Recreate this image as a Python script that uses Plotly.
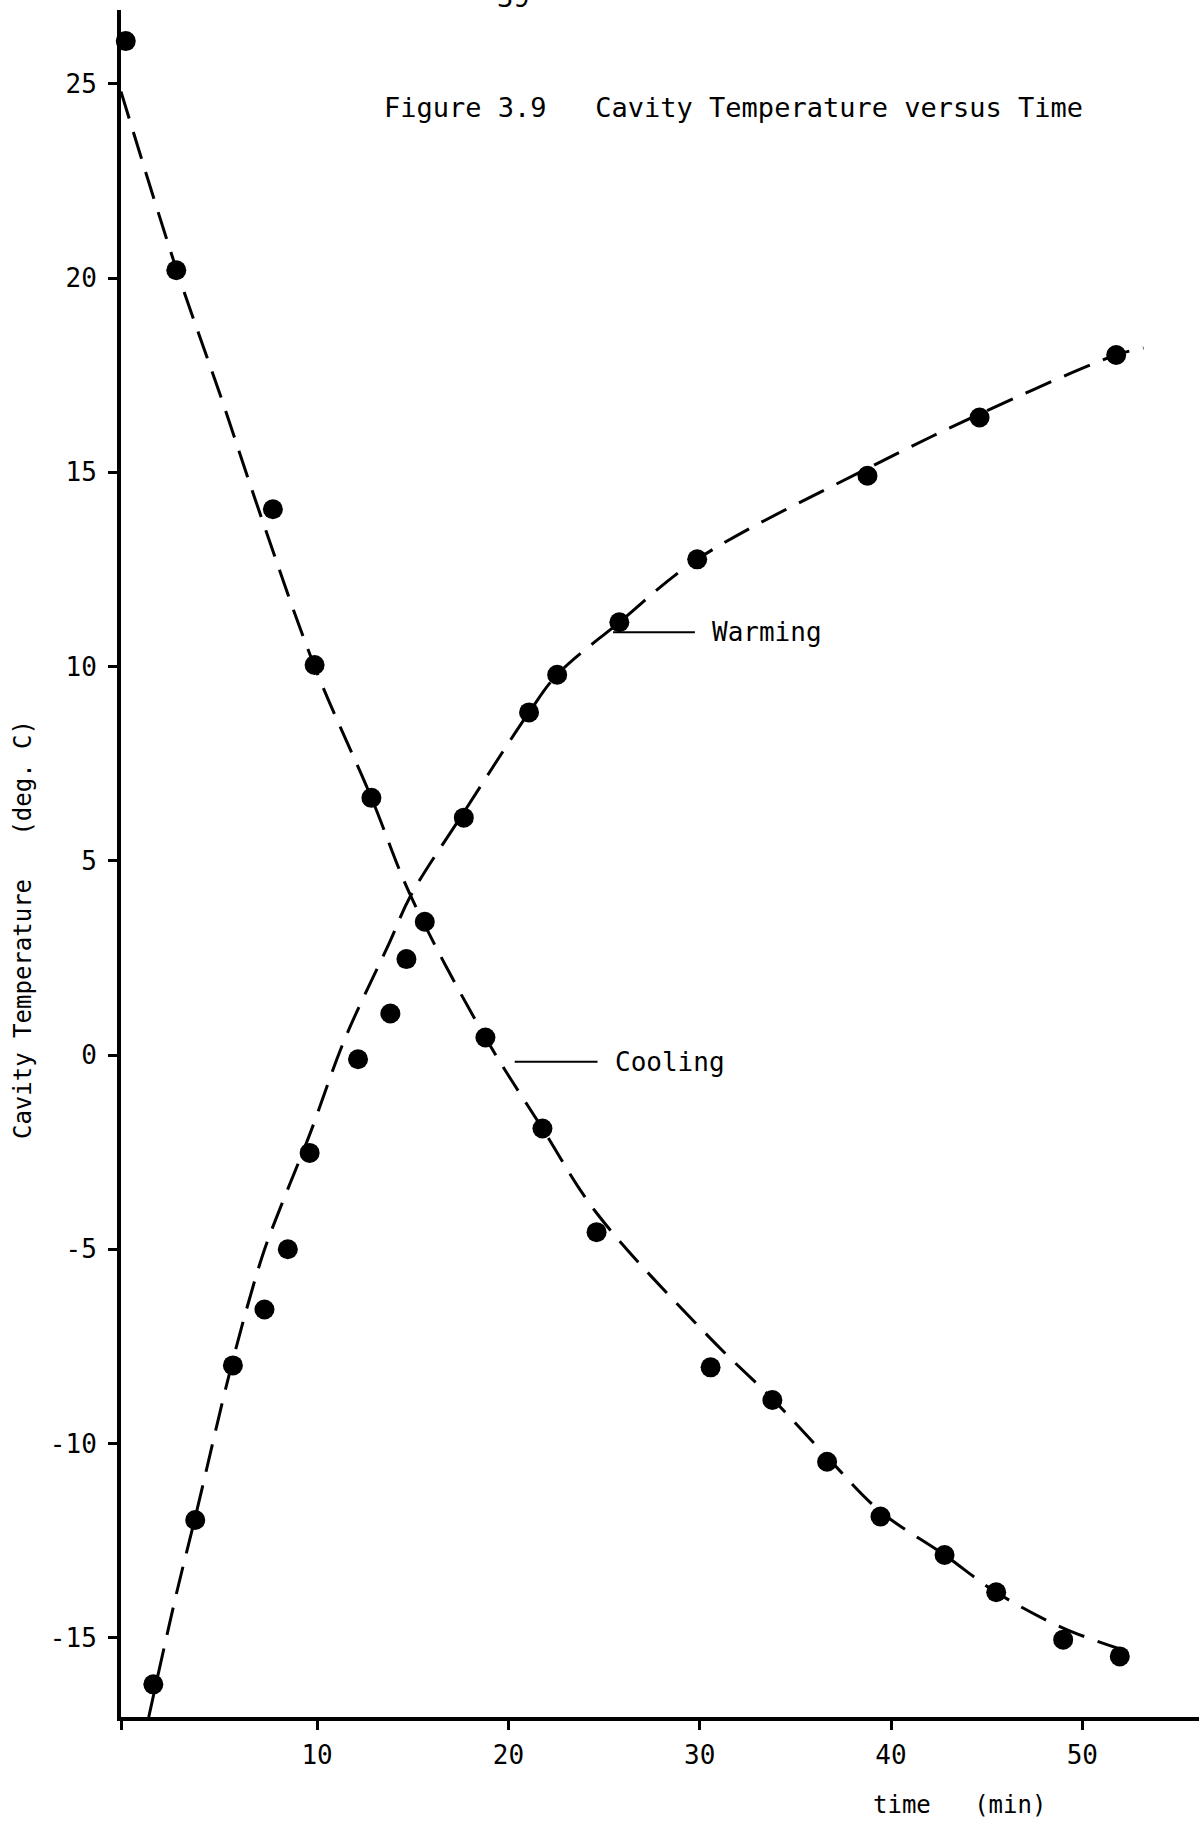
import plotly.graph_objects as go

# Measured cooling run: time (min) and cavity temperature (deg C)
cool_time = [0.0, 2.64, 7.69, 9.87, 12.84, 15.63, 18.8, 21.78, 24.61,
             30.57, 33.8, 36.66, 39.45, 42.8, 45.5, 49.0, 51.96]
cool_temp = [26.1, 20.2, 14.05, 10.04, 6.62, 3.43, 0.45, -1.89, -4.56,
             -8.04, -8.88, -10.47, -11.88, -12.87, -13.83, -15.05, -15.48]

# Measured warming run
warm_time = [1.44, 3.63, 5.6, 7.25, 8.47, 9.61, 12.14, 13.83, 14.67,
             17.67, 21.08, 22.55, 25.8, 29.87, 38.77, 44.63, 51.77]
warm_temp = [-16.2, -11.97, -7.99, -6.55, -5.0, -2.52, -0.11, 1.07, 2.47,
             6.11, 8.82, 9.79, 11.14, 12.76, 14.91, 16.41, 18.02]

# Hand-drawn smooth curves through each run
cool_fit_time = [-0.25, 2.6, 5.0, 6.94, 9.87, 12.84, 14.89, 18.8, 21.78, 24.6,
                 30.57, 33.8, 36.66, 39.45, 42.8, 45.5, 49.0, 52.8]
cool_fit_temp = [24.8, 20.3, 16.9, 14.05, 10.0, 6.62, 4.1, 0.45, -1.89, -4.06,
                 -7.3, -8.85, -10.35, -11.75, -12.87, -13.83, -14.75, -15.42]

warm_fit_time = [1.2, 2.63, 3.63, 5.6, 7.16, 8.04, 9.61, 11.44, 13.79, 14.89,
                 17.67, 21.08, 22.55, 25.8, 29.87, 38.77, 44.63, 51.77, 53.2]
warm_fit_temp = [-17.04, -13.9, -11.9, -7.85, -5.14, -3.98, -2.05, 0.4, 2.9, 4.1,
                 6.25, 8.82, 9.79, 11.14, 12.76, 15.1, 16.5, 18.02, 18.2]

# Axis ticks
y_ticks = [-15, -10, -5, 0, 5, 10, 15, 20, 25]
y_tick_text = ["-15", "-10", "-5", "0", "5", "10", "15", "20", "25"]
x_ticks = [-0.25, 10, 20, 30, 40, 50]
x_tick_text = ["", "10", "20", "30", "40", "50"]

# Curve labels with their leader lines
warm_label = {"text": "Warming", "line_time": [25.47, 29.75], "temp": 10.88}
cool_label = {"text": "Cooling", "line_time": [20.33, 24.66], "temp": -0.17}

FONT = "DejaVu Sans Mono"
INK = "black"

fig = go.Figure()

for t, v in ((cool_fit_time, cool_fit_temp), (warm_fit_time, warm_fit_temp)):
    fig.add_trace(go.Scatter(
        x=t, y=v, mode="lines", line_shape="spline",
        line=dict(color=INK, width=3, dash="28px,14px"),
        hoverinfo="skip", showlegend=False, cliponaxis=False,
    ))

for t, v in ((cool_time, cool_temp), (warm_time, warm_temp)):
    fig.add_trace(go.Scatter(
        x=t, y=v, mode="markers",
        marker=dict(color=INK, size=20, line=dict(width=0)),
        showlegend=False, cliponaxis=False,
    ))

# Leader lines
for lab in (warm_label, cool_label):
    fig.add_shape(type="line", xref="x", yref="y",
                  x0=lab["line_time"][0], x1=lab["line_time"][1],
                  y0=lab["temp"], y1=lab["temp"],
                  line=dict(color=INK, width=2))
    fig.add_annotation(x=lab["line_time"][1] + 0.8, y=lab["temp"],
                       xref="x", yref="y", text=lab["text"], showarrow=False,
                       xanchor="left", yanchor="middle",
                       font=dict(family=FONT, size=26, color=INK))

# Figure caption
fig.add_annotation(x=13.4, y=24.4, xref="x", yref="y",
                   text="Figure 3.9   Cavity Temperature versus Time",
                   showarrow=False, xanchor="left", yanchor="middle",
                   font=dict(family=FONT, size=27, color=INK))

# Page number at the top edge
fig.add_annotation(x=(513 - 121) / 1078, y=1.0075, xref="paper", yref="paper",
                   text="39", showarrow=False, xanchor="center", yanchor="middle",
                   font=dict(family=FONT, size=27, color=INK))

# Axis titles
fig.add_annotation(x=-0.091, y=3.24, xref="paper", yref="y",
                   text="Cavity Temperature   (deg. C)", textangle=-90,
                   showarrow=False, xanchor="center", yanchor="middle",
                   font=dict(family=FONT, size=24, color=INK))
fig.add_annotation(x=43.6, y=-0.0516, xref="x", yref="paper",
                   text="time   (min)", showarrow=False,
                   xanchor="center", yanchor="middle",
                   font=dict(family=FONT, size=24, color=INK))

fig.update_xaxes(
    range=[-0.25, 56.1], showgrid=False, zeroline=False,
    showline=True, linewidth=4, linecolor=INK,
    ticks="outside", ticklen=9, tickwidth=3, tickcolor=INK,
    tickvals=x_ticks, ticktext=x_tick_text, ticklabelstandoff=3,
    tickfont=dict(family=FONT, size=26, color=INK),
)
fig.update_yaxes(
    range=[-17.04, 26.9], showgrid=False, zeroline=False,
    showline=True, linewidth=4, linecolor=INK,
    ticks="outside", ticklen=9, tickwidth=3, tickcolor=INK,
    tickvals=y_ticks, ticktext=y_tick_text, ticklabelstandoff=6,
    tickfont=dict(family=FONT, size=26, color=INK),
)

fig.update_layout(
    width=1199, height=1824,
    margin=dict(l=121, r=0, t=10, b=107),
    paper_bgcolor="white", plot_bgcolor="white",
    showlegend=False,
)

fig.write_html("out.html")
